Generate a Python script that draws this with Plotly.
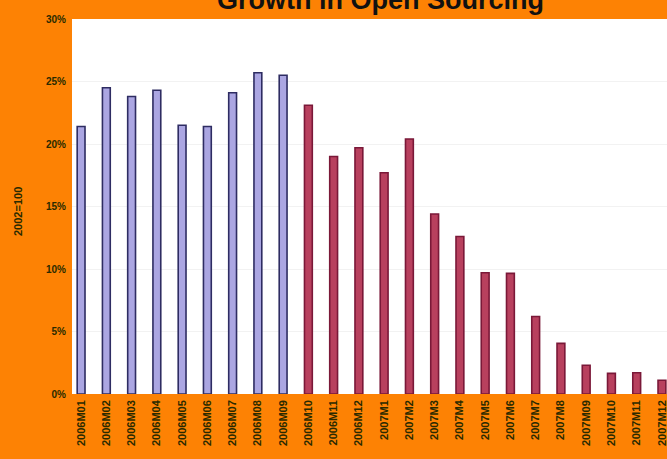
import plotly.graph_objects as go

months = ["2006M01", "2006M02", "2006M03", "2006M04", "2006M05", "2006M06",
          "2006M07", "2006M08", "2006M09", "2006M10", "2006M11", "2006M12",
          "2007M1", "2007M2", "2007M3", "2007M4", "2007M5", "2007M6",
          "2007M7", "2007M8", "2007M09", "2007M10", "2007M11", "2007M12"]
growth = [21.4, 24.5, 23.8, 24.3, 21.5, 21.4, 24.1, 25.7, 25.5,
          23.1, 19.0, 19.7, 17.7, 20.4, 14.4, 12.6, 9.7, 9.65,
          6.2, 4.05, 2.3, 1.65, 1.7, 1.1]
n_actual = 9

blue_fill, blue_line = "#ABA6E2", "#2E2C62"
red_fill, red_line = "#B8405E", "#7A1838"
fills = [blue_fill if i < n_actual else red_fill for i in range(len(months))]
lines = [blue_line if i < n_actual else red_line for i in range(len(months))]

W, H = 667, 459
L, T, B = 72, 19, 65

fig = go.Figure(go.Bar(
    x=months, y=growth,
    marker=dict(color=fills, line=dict(color=lines, width=1.6)),
    width=0.31,
))

fig.update_layout(
    width=W, height=H,
    margin=dict(l=L, r=0, t=T, b=B, pad=0),
    paper_bgcolor="#FD8204",
    plot_bgcolor="#FFFFFF",
    showlegend=False,
    font=dict(family="Liberation Sans, Arial, sans-serif", color="#222200"),
    xaxis=dict(type="category", range=[-0.36, 23.2], tickangle=-90,
               tickfont=dict(size=11, color="#2A2A00", family="Liberation Sans, Arial"),
               tickprefix="<b>", ticksuffix="</b>", ticklabelstandoff=3,
               showgrid=False, ticks="", showline=False, fixedrange=True),
    yaxis=dict(range=[0, 30], dtick=5, tickprefix="<b>", ticksuffix="%</b>",
               tickfont=dict(size=10, color="#2A2A00"), ticklabelstandoff=5,
               showgrid=True, gridcolor="#F2F2F2", gridwidth=1,
               zeroline=False, ticks="", showline=False, fixedrange=True),
    annotations=[
        dict(text="<b>Growth in Open Sourcing</b>", xref="paper", yref="paper",
             x=(380 - L) / (W - L), y=1 + (T - 17) / (H - T - B),
             xanchor="center", yanchor="bottom", showarrow=False,
             font=dict(size=27, color="#111111", family="Liberation Sans, Arial")),
        dict(text="<b>2002=100</b>", xref="paper", yref="paper",
             x=(18 - L) / (W - L), y=(394 - 212) / (H - T - B),
             xanchor="center", yanchor="middle", textangle=-90, showarrow=False,
             font=dict(size=11, color="#2A2A00")),
    ],
)

fig.write_html("out.html")
